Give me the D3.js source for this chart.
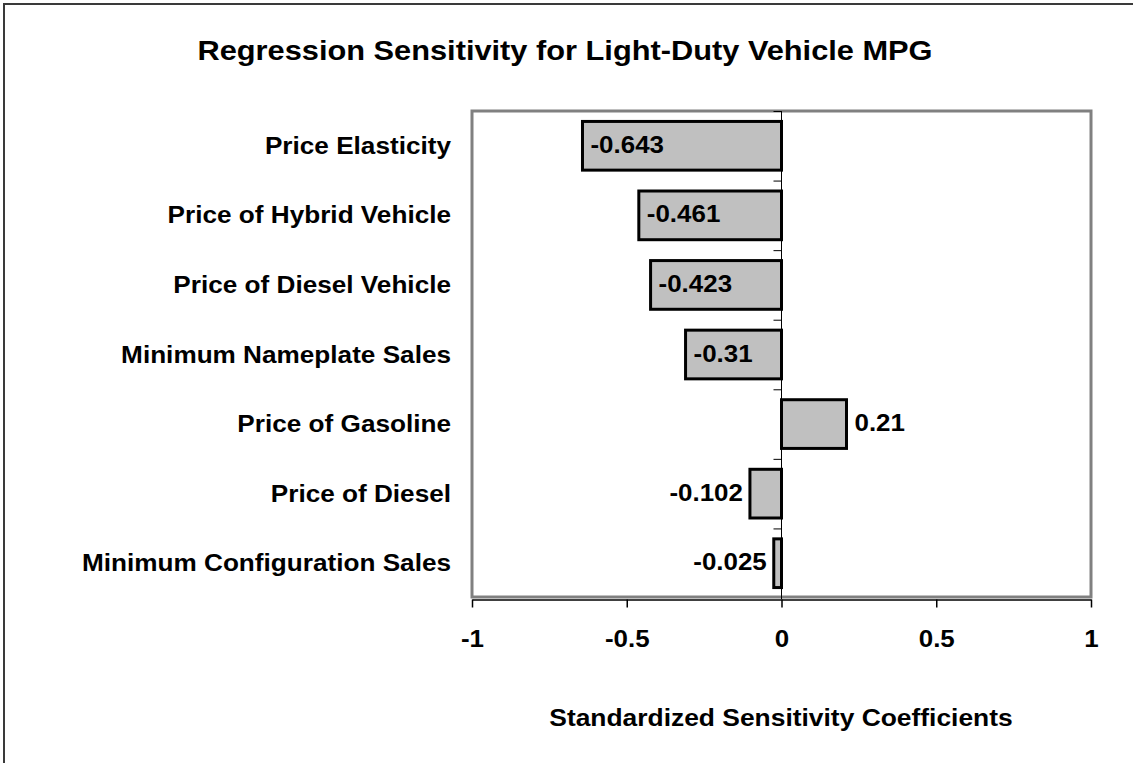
<!DOCTYPE html>
<html>
<head>
<meta charset="utf-8">
<script src="https://cdn.jsdelivr.net/npm/d3@7/dist/d3.min.js"></script>
<style>
  html, body { margin: 0; padding: 0; background: #fff; }
  svg { display: block; font-family: "Liberation Sans", Arial, sans-serif; font-weight: bold; }
</style>
</head>
<body>
<svg id="chart" width="1133" height="763"></svg>
<script>
// Standardized regression coefficients for light-duty vehicle MPG
const categories = [
  "Price Elasticity",
  "Price of Hybrid Vehicle",
  "Price of Diesel Vehicle",
  "Minimum Nameplate Sales",
  "Price of Gasoline",
  "Price of Diesel",
  "Minimum Configuration Sales"
];
const coefficients = [-0.643, -0.461, -0.423, -0.31, 0.21, -0.102, -0.025];
const tickValues = [-1, -0.5, 0, 0.5, 1];
const tickLabels = ["-1", "-0.5", "0", "0.5", "1"];

const chartTitle = "Regression Sensitivity for Light-Duty Vehicle MPG";
const axisTitle = "Standardized Sensitivity Coefficients";

const W = 1133, H = 763;
const plot = { left: 472, right: 1091, top: 111, bottom: 598 };
const stretch = 1.09;   // horizontal text stretch of the exported chart fonts

const svg = d3.select("#chart");

// outer chart frame (right/bottom edges run off the canvas)
svg.append("rect")
  .attr("x", 4).attr("y", 4)
  .attr("width", W + 20).attr("height", H + 20)
  .attr("fill", "#fff").attr("stroke", "#3a3a3a").attr("stroke-width", 2);

const x = d3.scaleLinear().domain([-1, 1]).range([plot.left, plot.right]);
const y = d3.scaleBand().domain(categories)
  .range([plot.top, plot.bottom]).paddingInner(0.3).paddingOuter(0.15);

// helper: horizontally stretched text anchored at (tx, ty)
function stretchedText(g, tx, ty, str, size, anchor, sx) {
  return g.append("text")
    .attr("transform", `translate(${tx},${ty}) scale(${sx},1)`)
    .attr("text-anchor", anchor)
    .attr("font-size", size)
    .attr("fill", "#000")
    .text(str);
}

// plot area frame
svg.append("rect")
  .attr("x", plot.left).attr("y", plot.top)
  .attr("width", plot.right - plot.left).attr("height", plot.bottom - 1 - plot.top)
  .attr("fill", "#fff").attr("stroke", "#808080").attr("stroke-width", 3);

// title
stretchedText(svg, 565, 60, chartTitle, 27, "middle", 1.14);

// bars
const data = categories.map((c, i) => ({ cat: c, v: coefficients[i] }));
svg.append("g").selectAll("rect").data(data).join("rect")
  .attr("x", d => Math.min(x(d.v), x(0)))
  .attr("y", d => y(d.cat))
  .attr("width", d => Math.abs(x(d.v) - x(0)))
  .attr("height", y.bandwidth())
  .attr("fill", "#c0c0c0")
  .attr("stroke", "#000")
  .attr("stroke-width", 3);

// vertical category axis at zero, with ticks on band boundaries
const zeroG = svg.append("g");
zeroG.append("line")
  .attr("x1", x(0)).attr("x2", x(0))
  .attr("y1", plot.top).attr("y2", plot.bottom + 1)
  .attr("stroke", "#000").attr("stroke-width", 1);
const bounds = d3.range(categories.length).map(i => plot.top + i * y.step());
zeroG.selectAll("line.tk").data(bounds).join("line")
  .attr("class", "tk")
  .attr("x1", x(0) - 8).attr("x2", x(0))
  .attr("y1", d => d + 0.5).attr("y2", d => d + 0.5)
  .attr("stroke", "#000").attr("stroke-width", 1);

// category labels
const catG = svg.append("g");
categories.forEach(c => {
  stretchedText(catG, 451, y(c) + y.bandwidth() / 2 + 8, c, 24, "end", stretch);
});

// value labels
const valG = svg.append("g");
data.forEach(d => {
  const cy = y(d.cat) + y.bandwidth() / 2 + 7;
  const txt = String(d.v);
  if (d.v < -0.2) {
    stretchedText(valG, x(d.v) + 8, cy, txt, 24, "start", 1.08);
  } else if (d.v < 0) {
    stretchedText(valG, x(d.v) - 7, cy, txt, 24, "end", 1.08);
  } else {
    stretchedText(valG, x(d.v) + 8, cy, txt, 24, "start", 1.08);
  }
});

// bottom value axis
const axisY = plot.bottom + 1.5;
const axisG = svg.append("g").attr("transform", `translate(0,${axisY})`)
  .call(d3.axisBottom(x).tickValues(tickValues).tickSizeInner(8).tickSizeOuter(0)
    .tickFormat((d, i) => tickLabels[i]));
axisG.select(".domain").attr("stroke", "#000").attr("stroke-width", 1.5);
axisG.selectAll(".tick line").attr("stroke", "#000").attr("stroke-width", 1.5);
axisG.selectAll(".tick text").remove();
axisG.selectAll(".tick").each(function (d, i) {
  stretchedText(d3.select(this), 0, 647 - axisY, tickLabels[i], 24, "middle", 1.08);
});

// axis title
stretchedText(svg, 781, 726, axisTitle, 24, "middle", 1.1);
</script>
</body>
</html>
